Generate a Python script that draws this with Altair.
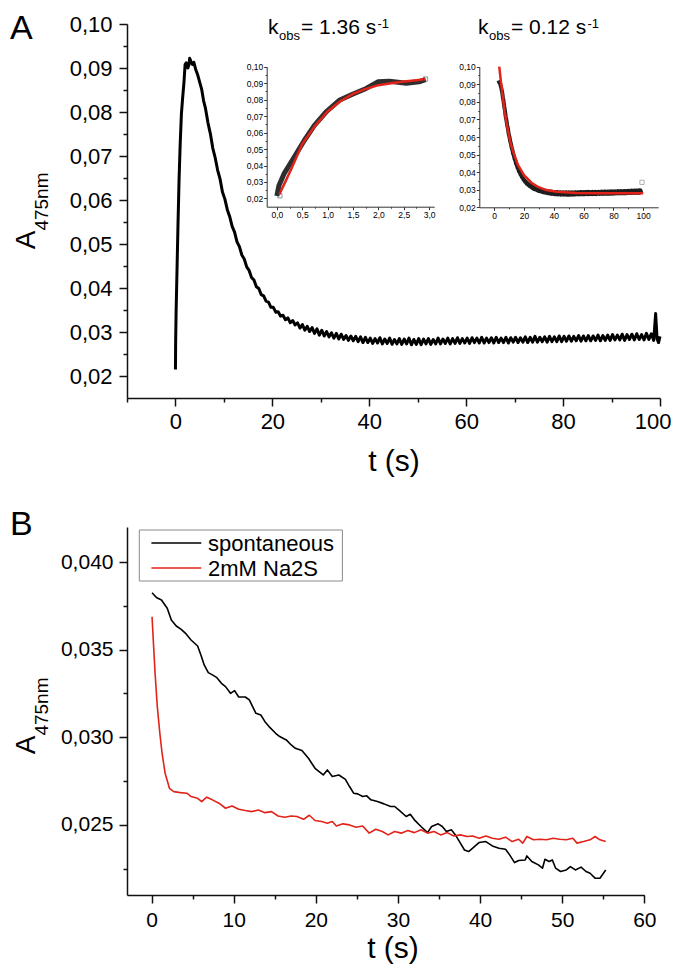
import altair as alt
import pandas as pd

FONT = "Liberation Sans"

# ---------------- Panel A: main trace (t [s], A475nm) ----------------
a_rise = [(0.0, 0.0215), (0.04, 0.0277), (0.14, 0.0349), (0.34, 0.0450), (0.54, 0.0552),
          (0.74, 0.0644), (0.97, 0.0725), (1.23, 0.0796), (1.49, 0.0833), (1.76, 0.0868),
          (1.99, 0.0908), (2.22, 0.0912), (2.55, 0.0900), (2.80, 0.0908), (2.93, 0.0922)]
a_decay = [(3.2, 0.0915), (3.5, 0.0908), (3.8, 0.0913), (4.2, 0.0896), (4.6, 0.0884), (5.0, 0.0868),
           (5.4, 0.0852), (5.8, 0.0826), (6.2, 0.0808), (6.7, 0.0776), (7.2, 0.0751), (7.7, 0.0718),
           (8.2, 0.0696), (8.7, 0.0668), (9.2, 0.0648), (9.7, 0.0618), (10.2, 0.0602), (10.7, 0.0578),
           (11.2, 0.0562), (11.7, 0.0540), (12.2, 0.0527), (12.7, 0.0505), (13.2, 0.0494), (13.7, 0.0475),
           (14.2, 0.0466), (14.7, 0.0448), (15.2, 0.0440), (15.7, 0.0424), (16.2, 0.0418), (16.7, 0.0403),
           (17.2, 0.0399), (17.7, 0.0385), (18.2, 0.0382), (18.7, 0.0370), (19.2, 0.0368), (19.7, 0.0356),
           (20.2, 0.0356), (20.7, 0.0345), (21.2, 0.0346), (21.7, 0.0336), (22.2, 0.0338), (22.7, 0.0328),
           (23.2, 0.0332), (23.7, 0.0321), (24.2, 0.0326), (24.7, 0.0316), (25.2, 0.0321)]
a_plateau = [
    (25.7, 0.0309), (26.2, 0.0317), (26.7, 0.0304), (27.2, 0.0313), (27.7, 0.0301), (28.2, 0.0310),
    (28.7, 0.0297), (29.2, 0.0307), (29.7, 0.0293), (30.2, 0.0304), (30.7, 0.0291), (31.2, 0.0301),
    (31.7, 0.0289), (32.2, 0.0298), (32.7, 0.0286), (33.2, 0.0297), (33.7, 0.0284), (34.2, 0.0295),
    (34.7, 0.0283), (35.2, 0.0292), (35.7, 0.0281), (36.2, 0.0291), (36.7, 0.0280), (37.2, 0.0290),
    (37.7, 0.0278), (38.2, 0.0289), (38.7, 0.0276), (39.2, 0.0288), (39.7, 0.0276), (40.2, 0.0286),
    (40.7, 0.0274), (41.2, 0.0285), (41.7, 0.0275), (42.2, 0.0287), (42.7, 0.0273), (43.2, 0.0284),
    (43.7, 0.0274), (44.2, 0.0286), (44.7, 0.0272), (45.2, 0.0283), (45.7, 0.0273), (46.2, 0.0285),
    (46.7, 0.0272), (47.2, 0.0284), (47.7, 0.0273), (48.2, 0.0286), (48.7, 0.0271), (49.2, 0.0283),
    (49.7, 0.0272), (50.2, 0.0285), (50.7, 0.0271), (51.2, 0.0284), (51.7, 0.0273), (52.2, 0.0285),
    (52.7, 0.0272), (53.2, 0.0283), (53.7, 0.0273), (54.2, 0.0286), (54.7, 0.0273), (55.2, 0.0284),
    (55.7, 0.0274), (56.2, 0.0286), (56.7, 0.0273), (57.2, 0.0285), (57.7, 0.0274), (58.2, 0.0287),
    (58.7, 0.0274), (59.2, 0.0285), (59.7, 0.0275), (60.2, 0.0286), (60.7, 0.0274), (61.2, 0.0287),
    (61.7, 0.0276), (62.2, 0.0286), (62.7, 0.0275), (63.2, 0.0288), (63.7, 0.0275), (64.2, 0.0286),
    (64.7, 0.0276), (65.2, 0.0287), (65.7, 0.0275), (66.2, 0.0288), (66.7, 0.0276), (67.2, 0.0286),
    (67.7, 0.0276), (68.2, 0.0288), (68.7, 0.0275), (69.2, 0.0287), (69.7, 0.0277), (70.2, 0.0288),
    (70.7, 0.0276), (71.2, 0.0287), (71.7, 0.0277), (72.2, 0.0289), (72.7, 0.0276), (73.2, 0.0288),
    (73.7, 0.0277), (74.2, 0.0290), (74.7, 0.0277), (75.2, 0.0288), (75.7, 0.0278), (76.2, 0.0289),
    (76.7, 0.0277), (77.2, 0.0290), (77.7, 0.0278), (78.2, 0.0289), (78.7, 0.0278), (79.2, 0.0291),
    (79.7, 0.0278), (80.2, 0.0290), (80.7, 0.0279), (81.2, 0.0291), (81.7, 0.0279), (82.2, 0.0290),
    (82.7, 0.0280), (83.2, 0.0292), (83.7, 0.0279), (84.2, 0.0291), (84.7, 0.0280), (85.2, 0.0292),
    (85.7, 0.0280), (86.2, 0.0291), (86.7, 0.0281), (87.2, 0.0293), (87.7, 0.0280), (88.2, 0.0292),
    (88.7, 0.0281), (89.2, 0.0293), (89.7, 0.0281), (90.2, 0.0294), (90.7, 0.0282), (91.2, 0.0293),
    (91.7, 0.0282), (92.2, 0.0295), (92.7, 0.0281), (93.2, 0.0294), (93.7, 0.0283), (94.2, 0.0295),
    (94.7, 0.0282), (95.2, 0.0296), (95.7, 0.0283), (96.2, 0.0294), (96.7, 0.0282), (97.2, 0.0297),
    (97.7, 0.0283), (98.2, 0.0296), (98.7, 0.0281), (99.1, 0.0342), (99.4, 0.0284), (99.7, 0.0276),
    (100.0, 0.0290)]

# inset fits (red) and marker squares
fit1 = [(0.05, 0.0226), (0.15, 0.0290), (0.30, 0.0390), (0.50, 0.0530), (0.75, 0.0640), (1.00, 0.0728),
        (1.25, 0.0790), (1.50, 0.0835), (1.75, 0.0865), (2.00, 0.0888), (2.25, 0.0900), (2.50, 0.0910),
        (2.75, 0.0918), (2.93, 0.0925)]
fit2 = [(3.4, 0.1000), (4.5, 0.0915), (5.6, 0.0840), (7.0, 0.0745), (8.9, 0.0652), (11.0, 0.0565),
        (13.4, 0.0500), (16.0, 0.0440), (20.0, 0.0383), (25.0, 0.0340), (29.0, 0.0318), (35.0, 0.0298),
        (42.0, 0.0289), (55.0, 0.0282), (70.0, 0.0280), (85.0, 0.0280), (100.0, 0.0280)]
marks1 = [(0.06, 0.0216), (2.93, 0.0925)]
marks2 = [(99.2, 0.0342)]
kobs_values = ["1.36", "0.12"]

# ---------------- Panel B ----------------
series_names = ["spontaneous", "2mM Na2S"]
series_colors = ["#000000", "#e2231a"]
b_spont = [(0.05, 0.03825), (0.58, 0.03798), (1.2, 0.03783), (1.9, 0.03736), (2.4, 0.03669), (3.0, 0.03635),
           (3.6, 0.03616), (4.2, 0.0359), (4.8, 0.03555), (5.6, 0.03521), (6.0, 0.0347), (6.4, 0.03413),
           (6.9, 0.03369), (7.4, 0.03356), (7.9, 0.03342), (8.5, 0.03308), (9.0, 0.03289), (9.6, 0.03251),
           (10.1, 0.03266), (10.6, 0.0323), (11.4, 0.0323), (11.9, 0.03213), (12.7, 0.03137), (13.3, 0.03127),
           (13.8, 0.03089), (14.3, 0.03061), (15.1, 0.03023), (15.6, 0.03004), (16.4, 0.02985), (17.0, 0.02956),
           (17.5, 0.02937), (18.3, 0.02924), (19.1, 0.0288), (19.9, 0.02823), (20.4, 0.02804), (20.9, 0.02785),
           (21.4, 0.02814), (22.0, 0.02776), (22.8, 0.02785), (23.6, 0.0276), (24.1, 0.02719), (24.6, 0.02681),
           (25.1, 0.02677), (25.7, 0.02662), (26.2, 0.02666), (26.7, 0.02643), (27.5, 0.02633), (28.3, 0.0262),
           (29.1, 0.02605), (29.6, 0.02605), (30.2, 0.02582), (31.0, 0.02548), (31.5, 0.02561), (32.0, 0.02529),
           (32.8, 0.02491), (33.6, 0.02456), (34.1, 0.02491), (34.9, 0.02506), (35.4, 0.02491), (35.9, 0.02462),
           (36.5, 0.02472), (37.0, 0.02443), (37.6, 0.02396), (38.1, 0.02357), (38.6, 0.02348), (39.1, 0.02367),
           (39.9, 0.024), (40.7, 0.02405), (41.5, 0.0238), (42.3, 0.02367), (43.1, 0.02361), (43.6, 0.02329),
           (44.2, 0.02285), (44.7, 0.02297), (45.5, 0.023), (45.7, 0.02323), (46.3, 0.02291), (47.1, 0.02272),
           (47.6, 0.02253), (47.9, 0.02304), (48.4, 0.02291), (48.8, 0.023), (49.2, 0.02253), (49.8, 0.02234),
           (50.5, 0.02243), (51.0, 0.02262), (51.6, 0.02243), (52.3, 0.02259), (52.9, 0.02234), (53.4, 0.02224),
           (54.0, 0.02196), (54.6, 0.02196), (55.3, 0.02243)]
b_na2s = [(0.05, 0.03688), (0.2, 0.03555), (0.42, 0.03365), (0.69, 0.03175), (1.0, 0.03023), (1.27, 0.02909),
          (1.64, 0.02795), (2.17, 0.02709), (2.7, 0.0269), (3.5, 0.02684), (4.3, 0.02681), (4.8, 0.02662),
          (5.6, 0.02652), (6.1, 0.02633), (6.7, 0.02658), (7.4, 0.02643), (8.2, 0.02624), (9.0, 0.02595),
          (9.8, 0.02608), (10.6, 0.02589), (11.4, 0.02582), (12.2, 0.02576), (13.0, 0.02585), (13.8, 0.0257),
          (14.6, 0.02576), (15.4, 0.02551), (16.2, 0.02544), (17.0, 0.02551), (17.7, 0.02548), (18.5, 0.02532),
          (19.2, 0.02555), (19.9, 0.02525), (20.7, 0.02519), (21.4, 0.02509), (22.0, 0.02519), (22.5, 0.02494),
          (23.3, 0.02506), (24.1, 0.025), (24.9, 0.02487), (25.7, 0.02494), (26.5, 0.02453), (27.3, 0.02475),
          (28.1, 0.02462), (28.8, 0.02443), (29.6, 0.02462), (30.4, 0.02453), (31.2, 0.02468), (32.0, 0.02456),
          (32.8, 0.02472), (33.6, 0.02453), (34.4, 0.02462), (35.2, 0.02443), (36.0, 0.02456), (36.8, 0.02437),
          (37.6, 0.02443), (38.4, 0.02434), (39.1, 0.02437), (39.9, 0.02424), (40.7, 0.02437), (41.5, 0.02424),
          (42.3, 0.02418), (43.1, 0.0243), (43.9, 0.02405), (44.7, 0.02418), (45.2, 0.02396), (45.7, 0.02434),
          (46.5, 0.02415), (47.3, 0.02418), (48.1, 0.02415), (48.9, 0.02424), (49.7, 0.02418), (50.5, 0.02415),
          (51.3, 0.02424), (51.8, 0.02396), (52.6, 0.02405), (53.4, 0.02415), (54.0, 0.02434), (54.6, 0.02415),
          (55.3, 0.02405)]

# ---------------- tick values ----------------
a_x_major = [0, 20, 40, 60, 80, 100]
a_x_minor = [-10, 10, 30, 50, 70, 90]
a_y_major = [0.02, 0.03, 0.04, 0.05, 0.06, 0.07, 0.08, 0.09, 0.10]
a_y_minor = [0.025, 0.035, 0.045, 0.055, 0.065, 0.075, 0.085, 0.095]
in1_x_major = [0.0, 0.5, 1.0, 1.5, 2.0, 2.5, 3.0]
in1_x_minor = [0.25, 0.75, 1.25, 1.75, 2.25, 2.75]
in2_x_major = [0, 20, 40, 60, 80, 100]
in2_x_minor = [10, 30, 50, 70, 90]
b_x_major = [0, 10, 20, 30, 40, 50, 60]
b_x_minor = [5, 15, 25, 35, 45, 55]
b_y_major = [0.025, 0.030, 0.035, 0.040]
b_y_minor = [0.0225, 0.0275, 0.0325, 0.0375]

# ---------------- layout (pixels, relative to plot origin) ----------------
W, H = 533, 871
A_XR, A_YR = [0, 533], [374, 0]
I1_XR, I1_YR = [139.7, 307.2], [182.7, 42.7]
I2_XR, I2_YR = [352.3, 531.1], [183.3, 42.7]
B_XR, B_YR = [0, 517.3], [871, 503]

dfA = pd.DataFrame(a_rise + a_decay + a_plateau, columns=["t", "v"])
dfF1 = pd.DataFrame(fit1, columns=["t", "v"])
dfF2 = pd.DataFrame(fit2, columns=["t", "v"])
dfM1 = pd.DataFrame(marks1, columns=["t", "v"])
dfM2 = pd.DataFrame(marks2, columns=["t", "v"])
dfB = pd.concat([
    pd.DataFrame(b_spont, columns=["t", "v"]).assign(series=series_names[0]),
    pd.DataFrame(b_na2s, columns=["t", "v"]).assign(series=series_names[1]),
])
one = pd.DataFrame({"k": [0]})


def sc(domain, rng):
    return alt.Scale(domain=domain, range=rng, nice=False, zero=False)


def ax(values, orient, offset, dec=None, tick=8, fs=22, pad=6, width=1.5, color="#111",
       labels=True, flush=False, flush_offset=0):
    kw = dict(values=values, orient=orient, offset=offset, title=None, grid=False,
              tickSize=tick, tickWidth=width, tickColor=color, domainColor=color,
              domainWidth=width, labelFlush=flush, labelOverlap=False)
    if flush:
        kw["labelFlushOffset"] = flush_offset
    if labels:
        kw.update(labelFontSize=fs, labelFont=FONT, labelColor="#000", labelPadding=pad)
        if dec is not None:
            kw["labelExpr"] = "replace(format(datum.value, '.%df'), '.', ',')" % dec
    else:
        kw.update(labels=False, domain=False)
    return alt.Axis(**kw)


def txt(s, x, y, fs, angle=0, align="left", baseline="alphabetic", color="black"):
    return alt.Chart(one).mark_text(text=s, fontSize=fs, font=FONT, angle=angle, align=align,
                                    baseline=baseline, color=color).encode(x=alt.value(x), y=alt.value(y))


layers = []

# --- Panel A main ---
AX, AY = sc([-10, 100], A_XR), sc([0.015, 0.10], A_YR)
layers.append(alt.Chart(dfA).mark_line(color="black", strokeWidth=3, strokeJoin="round").encode(
    x=alt.X("t:Q", scale=AX, axis=ax(a_x_major, "bottom", A_YR[0] - H, dec=0, pad=5,
                                     flush=True, flush_offset=11)),
    y=alt.Y("v:Q", scale=AY, axis=ax(a_y_major, "left", 0, dec=2, pad=7))))
layers.append(alt.Chart(dfA).mark_point(opacity=0).encode(
    x=alt.X("t:Q", scale=AX, axis=ax(a_x_minor, "bottom", A_YR[0] - H, tick=4, labels=False)),
    y=alt.Y("v:Q", scale=AY, axis=ax(a_y_minor, "left", 0, tick=4, labels=False))))

# --- Inset 1 ---
I1X, I1Y = sc([-0.2, 3.1], I1_XR), sc([0.015, 0.10], I1_YR)
small = dict(tick=3, fs=8.5, pad=1, width=1, color="#333")
layers.append(alt.Chart(dfA).transform_filter("datum.t <= 2.95").mark_line(
    color="#2e2e2e", strokeWidth=5, strokeJoin="round").encode(
    x=alt.X("t:Q", scale=I1X, axis=ax(in1_x_major, "bottom", I1_YR[0] - H, dec=1, **small)),
    y=alt.Y("v:Q", scale=I1Y, axis=ax(a_y_major, "left", -I1_XR[0], dec=2, **small))))
layers.append(alt.Chart(dfA).transform_filter("datum.t <= 2.95").mark_point(opacity=0).encode(
    x=alt.X("t:Q", scale=I1X, axis=ax(in1_x_minor, "bottom", I1_YR[0] - H, tick=1.5, width=1, color="#333", labels=False)),
    y=alt.Y("v:Q", scale=I1Y, axis=ax(a_y_minor, "left", -I1_XR[0], tick=1.5, width=1, color="#333", labels=False))))
layers.append(alt.Chart(dfF1).mark_line(color=series_colors[1], strokeWidth=2.5).encode(
    x=alt.X("t:Q", scale=I1X, axis=None), y=alt.Y("v:Q", scale=I1Y, axis=None)))
layers.append(alt.Chart(dfM1).mark_point(shape="square", filled=False, size=18, color="#444", strokeWidth=0.8).encode(
    x=alt.X("t:Q", scale=I1X, axis=None), y=alt.Y("v:Q", scale=I1Y, axis=None)))

# --- Inset 2 ---
I2X, I2Y = sc([-10, 110], I2_XR), sc([0.02, 0.10], I2_YR)
layers.append(alt.Chart(dfA).transform_filter("datum.t >= 2.9 && datum.t <= 98.9").mark_line(
    color="#1e1e1e", strokeWidth=4, strokeJoin="round").encode(
    x=alt.X("t:Q", scale=I2X, axis=ax(in2_x_major, "bottom", I2_YR[0] - H, dec=0, **small)),
    y=alt.Y("v:Q", scale=I2Y, axis=ax(a_y_major, "left", -I2_XR[0], dec=2, **small))))
layers.append(alt.Chart(dfA).transform_filter("datum.t >= 2.9").mark_point(opacity=0).encode(
    x=alt.X("t:Q", scale=I2X, axis=ax(in2_x_minor, "bottom", I2_YR[0] - H, tick=1.5, width=1, color="#333", labels=False)),
    y=alt.Y("v:Q", scale=I2Y, axis=ax(a_y_minor, "left", -I2_XR[0], tick=1.5, width=1, color="#333", labels=False))))
layers.append(alt.Chart(dfF2).mark_line(color=series_colors[1], strokeWidth=2.5).encode(
    x=alt.X("t:Q", scale=I2X, axis=None), y=alt.Y("v:Q", scale=I2Y, axis=None)))
layers.append(alt.Chart(dfM2).mark_point(shape="square", filled=False, size=18, color="#777", strokeWidth=0.8).encode(
    x=alt.X("t:Q", scale=I2X, axis=None), y=alt.Y("v:Q", scale=I2Y, axis=None)))

# --- Panel B ---
BX, BY = sc([-3, 60], B_XR), sc([0.021, 0.042], B_YR)
layers.append(alt.Chart(dfB).mark_line(strokeWidth=1.6, strokeJoin="round").encode(
    x=alt.X("t:Q", scale=BX, axis=ax(b_x_major, "bottom", 0, dec=0, fs=21, pad=6)),
    y=alt.Y("v:Q", scale=BY, axis=ax(b_y_major, "left", 0, dec=3, fs=21, pad=6)),
    color=alt.Color("series:N", scale=alt.Scale(domain=series_names, range=series_colors), legend=None),
    detail="series:N"))
layers.append(alt.Chart(dfB).mark_point(opacity=0).encode(
    x=alt.X("t:Q", scale=BX, axis=ax(b_x_minor, "bottom", 0, tick=4, labels=False)),
    y=alt.Y("v:Q", scale=BY, axis=ax(b_y_minor, "left", 0, tick=4, labels=False))))

# --- Panel B legend ---
layers.append(alt.Chart(one).mark_rect(fill="white", stroke="#8a8a8a", strokeWidth=1).encode(
    x=alt.value(12.3), x2=alt.value(215.4), y=alt.value(506), y2=alt.value(557)))
for i, row_y in enumerate([519, 544]):
    layers.append(alt.Chart(one).mark_rule(color=series_colors[i], strokeWidth=1.6).encode(
        x=alt.value(24.4), x2=alt.value(74.3), y=alt.value(row_y)))
    layers.append(txt(series_names[i], 81, row_y + 8, 22))

# --- texts ---
layers.append(txt("A", -117, 15, 34))
layers.append(txt("B", -117, 511, 34))
for yA, ySub in [(225.3, 206.6), (730.3, 711.6)]:
    layers.append(txt("A", -92, yA, 28, angle=270))
    layers.append(txt("475nm", -79, ySub, 19, angle=270))
layers.append(txt("t (s)", 267, 447, 30, align="center"))
layers.append(txt("t (s)", 266, 934, 30, align="center"))
for x0, val in [(141, kobs_values[0]), (351, kobs_values[1])]:
    layers.append(txt("k", x0, 10, 21))
    layers.append(txt("obs", x0 + 11, 16, 13))
    layers.append(txt("= " + val + " s", x0 + 33, 10, 21))
    layers.append(txt("-1", x0 + 33 + 76.5, 3.6, 13))

chart = alt.layer(*layers).resolve_scale(
    x="independent", y="independent"
).properties(
    width=W, height=H,
    padding={"left": 119, "top": 16, "right": 12, "bottom": 70},
    autosize=alt.AutoSizeParams(type="none"),
).configure_view(stroke=None)

chart.save("out.html", embed_options={"renderer": "svg", "actions": False})
